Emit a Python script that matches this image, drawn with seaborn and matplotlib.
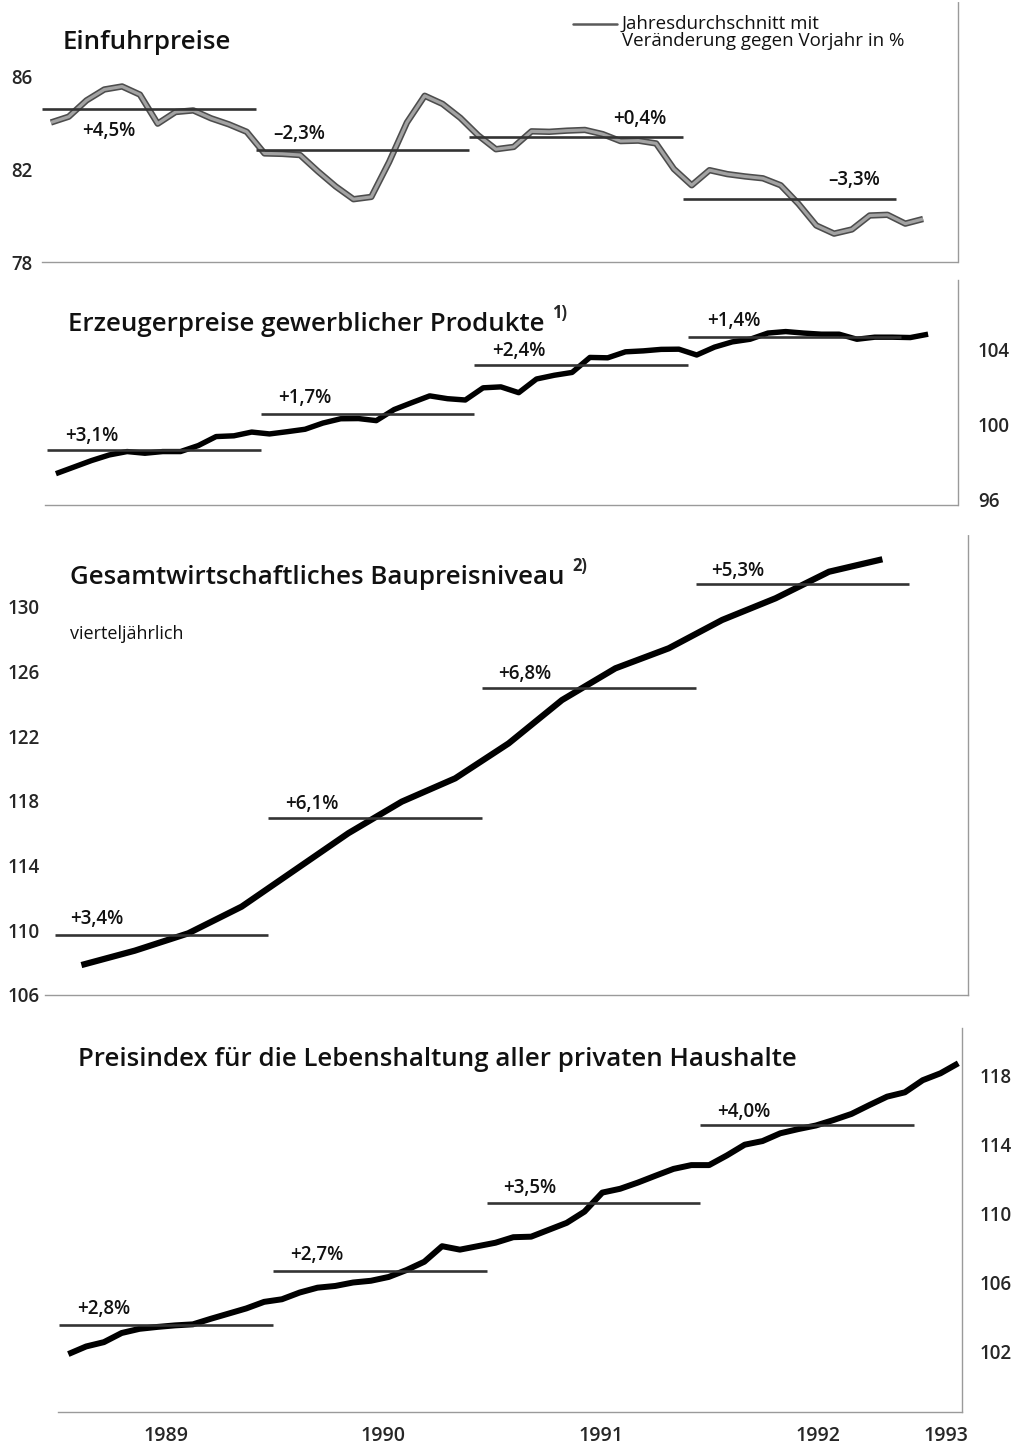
import numpy as np
import pandas as pd
import seaborn as sns
import matplotlib.pyplot as plt
import matplotlib.patheffects as pe

# Monatswerte ab Januar 1989 (Monat 0 = Januar 1989), Baupreise vierteljährlich
einfuhr = [84.0, 84.25, 84.95, 85.42, 85.55, 85.2, 83.95, 84.45, 84.52, 84.18, 83.92, 83.6,
           82.67, 82.65, 82.6, 81.9, 81.25, 80.7, 80.8, 82.3, 84.0, 85.15, 84.8, 84.2,
           83.45, 82.85, 82.95, 83.62, 83.6, 83.65, 83.68, 83.5, 83.2, 83.22, 83.1, 82.0,
           81.3, 81.95, 81.78, 81.68, 81.6, 81.3, 80.5, 79.57, 79.22, 79.4, 80.0, 80.03,
           79.65, 79.85]
erzeuger = [97.4, 97.75, 98.1, 98.4, 98.58, 98.49, 98.58, 98.58, 98.9, 99.38, 99.42, 99.62,
            99.52, 99.64, 99.77, 100.1, 100.33, 100.34, 100.23, 100.82, 101.19, 101.55, 101.4, 101.33,
            101.98, 102.03, 101.72, 102.45, 102.65, 102.8, 103.6, 103.58, 103.9, 103.95, 104.03, 104.04,
            103.73, 104.15, 104.43, 104.57, 104.9, 104.98, 104.9, 104.84, 104.84, 104.57, 104.68, 104.68,
            104.66, 104.84]
bau = [107.85, 108.74, 109.81, 111.46, 113.73, 116.0, 117.95, 119.39,
       121.55, 124.23, 126.19, 127.43, 129.18, 130.52, 132.16, 132.93]
lebenshaltung = [101.86, 102.3, 102.55, 103.08, 103.32, 103.43, 103.52, 103.58, 103.9, 104.2, 104.5, 104.88,
                 105.03, 105.42, 105.7, 105.8, 106.0, 106.1, 106.32, 106.72, 107.2, 108.1, 107.9, 108.1,
                 108.3, 108.62, 108.65, 109.05, 109.45, 110.1, 111.2, 111.42, 111.78, 112.18, 112.57, 112.79,
                 112.79, 113.35, 113.97, 114.18, 114.63, 114.87, 115.08, 115.4, 115.75, 116.26, 116.75, 117.0,
                 117.7, 118.1, 118.68]

# Jahresdurchschnitte 1989-1992 und Veränderung gegen Vorjahr
avg_einfuhr = [84.57, 82.83, 83.38, 80.73]
avg_erzeuger = [98.67, 100.59, 103.18, 104.71]
avg_bau = [109.7, 116.92, 124.95, 131.38]
avg_leben = [103.54, 106.68, 110.61, 115.11]
pct_einfuhr = ['+4,5%', '–2,3%', '+0,4%', '–3,3%']
pct_erzeuger = ['+3,1%', '+1,7%', '+2,4%', '+1,4%']
pct_bau = ['+3,4%', '+6,1%', '+6,8%', '+5,3%']
pct_leben = ['+2,8%', '+2,7%', '+3,5%', '+4,0%']

years = ['1989', '1990', '1991', '1992', '1993']
year_tick_pos = [6.0, 18.2, 30.4, 42.6, 49.8]

# Layout in Pixeln
W, H = 1016, 1450
PX_MONTH = 17.8
PT = 100 / 72
sns.set_theme(style='white')
plt.rcParams['font.family'] = ['Open Sans', 'DejaVu Sans']

fig = plt.figure(figsize=(W / 100, H / 100), dpi=100)


def panel(left, right, top, bottom, x0, ybot, ppu):
    ax = fig.add_axes([left / W, 1 - bottom / H, (right - left) / W, (bottom - top) / H])
    ax.set_xlim((left - x0) / PX_MONTH, (right - x0) / PX_MONTH)
    ax.set_ylim(ybot, ybot + (bottom - top) / ppu)
    for s in ['top', 'left']:
        ax.spines[s].set_visible(False)
    for s in ['bottom', 'right']:
        ax.spines[s].set_color('#9a9a9a')
        ax.spines[s].set_linestyle((0, (1, 1)))
        ax.spines[s].set_linewidth(1.0)
    ax.set_xticks([])
    ax.tick_params(length=0)
    ax.patch.set_alpha(0)
    return ax


def draw(ax, x, y, avgs, pcts, label_pos, color, lw, effects=None):
    df = pd.DataFrame({'x': x, 'y': y})
    sns.lineplot(data=df, x='x', y='y', ax=ax, color=color, linewidth=lw,
                 solid_joinstyle='round', solid_capstyle='butt', path_effects=effects)
    for i, (a, p) in enumerate(zip(avgs, pcts)):
        ax.hlines(a, 12 * i, 12 * (i + 1), color='#333333', linewidth=1.9)
        lx, ly = label_pos[i]
        ax.text(lx, ly, p, fontsize=13.5, fontweight='semibold', va='center', ha='left',
                color='#111111')
    ax.set_xlabel('')
    ax.set_ylabel('')


def yticks(ax, ticks, side, pad_px):
    ax.set_yticks(ticks)
    if side == 'right':
        ax.yaxis.tick_right()
    ax.tick_params(axis='y', left=False, right=False, length=0,
                   labelleft=(side == 'left'), labelright=(side == 'right'),
                   pad=pad_px / PT, labelsize=13.5)
    for t in ax.get_yticklabels():
        t.set_fontweight('semibold')


months50 = np.arange(50) + 0.5
months51 = np.arange(51) + 0.5
quarters = np.arange(16) * 3 + 1.5

# 1. Einfuhrpreise (grau, dunkel umrandet)
ax1 = panel(42, 958, 2, 262, 42, 78, 23.25)
gray_fx = [pe.Stroke(linewidth=4.6, foreground='#4d4d4d'), pe.Normal()]
draw(ax1, months50, einfuhr, avg_einfuhr, pct_einfuhr,
     [(2.25, 83.63), (12.98, 83.51), (32.08, 84.15), (44.16, 81.53)], '#a3a3a3', 2.3, gray_fx)
yticks(ax1, [78, 82, 86], 'left', 10)

# 2. Erzeugerpreise
ax2 = panel(45, 958, 280, 505, 47, 95.73, 18.75)
draw(ax2, months50, erzeuger, avg_erzeuger, pct_erzeuger,
     [(1.01, 99.41), (12.98, 101.41), (25.0, 103.92), (37.08, 105.57)], 'black', 3.9)
yticks(ax2, [96, 100, 104], 'right', 20)

# 3. Baupreisniveau
ax3 = panel(45, 968, 535, 995, 54.7, 106, 16.18)
draw(ax3, quarters, bau, avg_bau, pct_bau,
     [(0.86, 110.7), (12.94, 117.8), (24.9, 125.81), (36.87, 132.21)], 'black', 4.5)
yticks(ax3, [106, 110, 114, 118, 122, 126, 130], 'left', 5)

# 4. Lebenshaltung
ax4 = panel(58, 962, 1028, 1412, 59.4, 98.51, 17.29)
draw(ax4, months51, lebenshaltung, avg_leben, pct_leben,
     [(0.99, 104.47), (12.95, 107.59), (24.91, 111.49), (36.94, 115.86)], 'black', 4.3)
yticks(ax4, [102, 106, 110, 114, 118], 'right', 18)
ax4.set_xticks(year_tick_pos)
ax4.set_xticklabels(years, fontweight='semibold')
ax4.tick_params(axis='x', bottom=False, length=0, pad=14 / PT, labelsize=14)


# Titel und Texte
def ftext(x, y, s, **kw):
    return fig.text(x / W, 1 - y / H, s, **kw)


TITLE = dict(fontsize=18.6, fontweight='semibold', va='baseline', color='#111111')
ftext(63, 49, 'Einfuhrpreise', **TITLE)
t2 = ftext(68, 331, 'Erzeugerpreise gewerblicher Produkte', **TITLE)
t3 = ftext(70, 584, 'Gesamtwirtschaftliches Baupreisniveau', **TITLE)
ftext(70, 639, 'vierteljährlich', fontsize=13, va='baseline', color='#111111')
ftext(78, 1066, 'Preisindex für die Lebenshaltung aller privaten Haushalte', **TITLE)

# Fußnotenzeichen hinter den Titeln
fig.canvas.draw()
renderer = fig.canvas.get_renderer()
for t, note, y in [(t2, '1)', 318), (t3, '2)', 571)]:
    x_end = t.get_window_extent(renderer).x1
    ftext(x_end + 8, y, note, fontsize=12, va='baseline', fontweight='bold')

# Legende
fig.add_artist(plt.Line2D([573 / W, 617 / W], [1 - 24 / H, 1 - 24 / H], color='#5a5a5a', linewidth=1.8))
ftext(622, 29, 'Jahresdurchschnitt mit', fontsize=13.5, va='baseline', color='#111111')
ftext(622, 46, 'Veränderung gegen Vorjahr in %', fontsize=13.5, va='baseline', color='#111111')

fig.savefig('out.png', dpi=100, facecolor='white')
